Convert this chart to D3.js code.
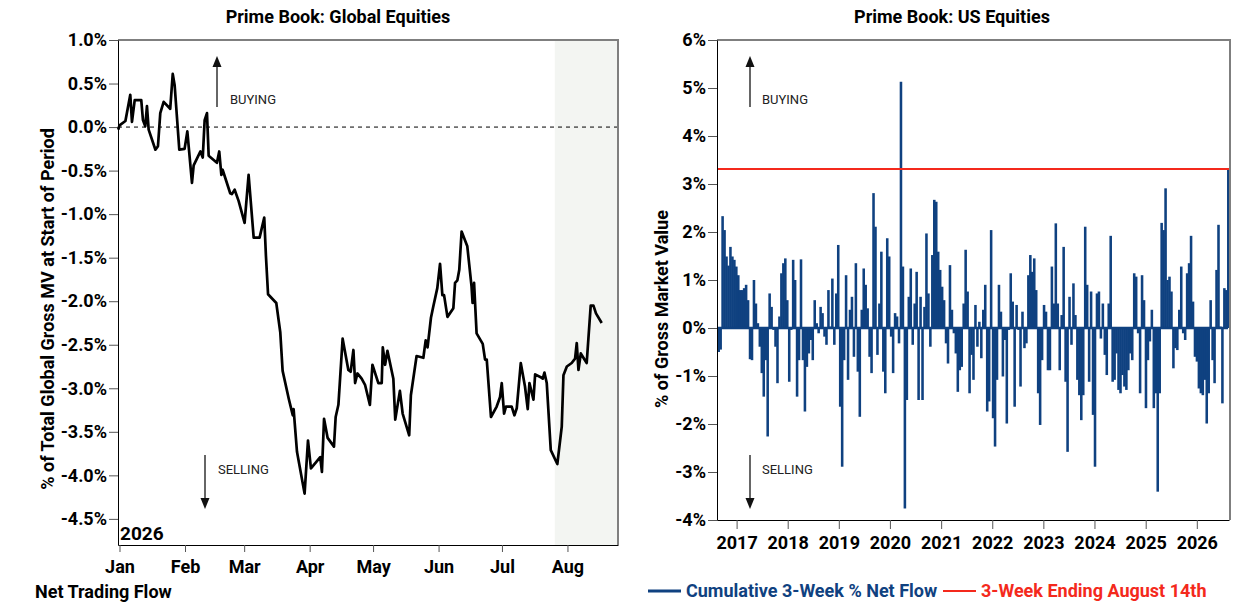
<!DOCTYPE html>
<html>
<head>
<meta charset="utf-8">
<script src="https://cdn.jsdelivr.net/npm/d3@7"></script>
<style>
  body { margin: 0; background: #fff; }
  text { font-family: Roboto, "Liberation Sans", sans-serif; }
</style>
</head>
<body>
<svg id="mainsvg" width="1255" height="612"></svg>
<script>
// ---- left panel: cumulative net trading flow in 2026 (days after Jan 1) ----
const flowDay = [-0.6, 0, 2.8, 5.1, 5.9, 7.2, 10.3, 11.1, 12.2, 13, 13.8, 17, 18.2, 19.3, 20.9, 24, 25.2, 26.1,
    28.3, 30.8, 32.1, 34.3, 35.1, 38.3, 39.4, 40.3, 41.4, 42.2, 46.1, 47.2, 48.2, 48.8, 52.4, 53.2, 54.5, 56.4,
    59.2, 61.1, 63.5, 66.3, 68.5, 69.3, 70.3, 74.2, 76.1, 77.2, 80.1, 81.1, 82, 82.4, 84, 87.6, 89.2, 90.6,
    95, 95.8, 96.8, 98.5, 101.5, 102.3, 103.6, 105.6, 108.3, 109.4, 110.7, 111.5, 112.6, 114.6, 116.2, 118.5,
    119.7, 122.5, 124.1, 124.6, 125.7, 126.8, 129.6, 130.5, 132.7, 134, 137.1, 137.9, 140.6, 143.8, 144.9,
    145.8, 147.4, 148.5, 150.4, 151.7, 152.8, 153.6, 155.2, 158, 158.8, 159.9, 160.8, 161.9, 164.6, 166.6,
    167.1, 167.8, 169, 171.9, 173, 173.8, 175.8, 178.5, 180.1, 180.9, 182, 182.9, 185.6, 186.9, 188, 189.9,
    191.9, 193.2, 194, 195.9, 196.7, 199.1, 200.3, 201.1, 202.2, 204.1, 207.2, 209.3, 210.1, 211.7, 214,
    215.6, 216.4, 217.2, 218.3, 221.1, 223, 224.3, 225.5, 228.2];
const flowPct = [-0.03, 0.02, 0.07, 0.37, 0.06, 0.31, 0.31, 0.08, 0.01, 0.24, -0.03, -0.26, -0.22, 0.16, 0.29, 0.21, 0.61, 0.48,
    -0.26, -0.25, -0.05, -0.64, -0.44, -0.28, -0.35, 0.08, 0.16, -0.33, -0.41, -0.28, -0.55, -0.49, -0.76, -0.77, -0.72, -0.85,
    -1.10, -0.55, -1.27, -1.27, -1.04, -1.48, -1.92, -2.02, -2.36, -2.80, -3.12, -3.22, -3.31, -3.24, -3.73, -4.21, -3.60, -3.92,
    -3.79, -3.96, -3.35, -3.57, -3.67, -3.33, -3.19, -2.43, -2.79, -2.81, -2.56, -2.94, -2.83, -2.89, -2.96, -3.19,
    -2.73, -2.94, -2.94, -2.53, -2.73, -2.57, -2.89, -3.36, -3.03, -3.29, -3.54, -3.08, -2.63, -2.65, -2.45,
    -2.53, -2.19, -2.06, -1.85, -1.57, -1.93, -1.93, -2.18, -2.08, -1.79, -1.76, -1.64, -1.20, -1.37, -1.83,
    -2.02, -1.79, -2.37, -2.49, -2.67, -2.67, -3.33, -3.21, -3.10, -2.94, -3.29, -3.21, -3.21, -3.31, -3.23, -2.71,
    -2.98, -3.24, -2.94, -3.13, -2.84, -2.87, -2.89, -2.82, -2.94, -3.71, -3.87, -3.44, -2.85, -2.75, -2.71,
    -2.66, -2.48, -2.79, -2.60, -2.71, -2.05, -2.05, -2.14, -2.25];
const monthTicks = ['2026-01-01', '2026-02-01', '2026-03-01', '2026-04-01', '2026-05-01', '2026-06-01', '2026-07-01', '2026-08-01'];
const pctTicks = [1.0, 0.5, 0.0, -0.5, -1.0, -1.5, -2.0, -2.5, -3.0, -3.5, -4.0, -4.5];
const shadeStart = '2026-07-26';

// ---- right panel: cumulative 3-week % net flow, one value every two weeks ----
const usStart = '2016-08-26';
const usFlow = [
    -0.5, -0.45, 2.33, 2.04, 1.49, 1.3, 1.69, 1.49, 1.42, 1.28,
    1.1, 0.79, 0.79, 0.83, 0.9, 0.58, -0.65, -0.67, 1.0, 0.51,
    0.1, -0.39, -0.94, -1.43, -0.67, -2.26, 0.72, 0.44, -0.04, -0.39,
    -1.15, 0.24, 1.14, 1.35, 1.45, 0.58, -1.12, -0.04, 1.42, 1.0,
    -1.43, -0.67, 1.43, -0.67, -1.74, -0.81, -0.53, -0.25, -0.67, 0.58,
    0.1, -0.11, 0.44, 0.31, -0.18, -0.35, 0.79, 0.03, 1.03, -0.35,
    0.72, 1.73, -1.64, -2.89, -0.67, 1.1, -1.08,
    0.38, 0.65, -0.6, 1.35, -0.91, -1.85, 0.38, 1.24, 0.9, 0.41,
    -0.6, -0.94, 2.81, 2.11, -0.56, 0.51, 1.59, -0.91, -1.36, 1.87,
    1.49, -0.18, -0.94, 0.31, 0.24, -0.32, 5.13, 1.28, -3.76, -1.5,
    0.65, 1.24, -0.35, 0.51, 1.17, -1.5, 0.65, -1.5, 0.44, 1.97,
    0.72, -0.39, 1.52, 2.67, 2.63, 1.59, 1.21, 0.86, 0.58, -0.32,
    -0.74, 1.31, 0.38, -0.11, -0.53, -1.33, -0.88, -0.81, 0.51, 1.63,
    0.76, -1.36, -0.56, -1.08, 0.48, -0.39,
    0.13, -0.63, 0.38, 0.9, -1.74, -1.53, 2.04, -1.88, -2.47, -1.08,
    0.9, 0.34, -1.01, -0.25, -1.99, -0.04, 1.14, 0.55, -1.64, 0.48,
    -0.04, -1.22, 0.34, -0.42, -0.32, 1.1, 1.52, 1.17, 1.45, 0.79,
    -1.36, -2.02, -0.67, 0.48, 0.34, -0.88, -0.88, 1.28, 0.51, 2.18,
    0.51, -0.88, 0.27, 1.69, -1.12, -2.58, 0.65, -0.35, 0.93, 0.27,
    -1.08, -1.4, -1.92, -1.4, 2.11, 0.9, -1.12, 0.76, -1.81, -2.89,
    0.72, 0.76, -0.22, 0.51, -0.56,
    -0.98, 0.51, 1.92, -1.12, -1.08, -0.53, -1.29, -1.36, -0.98, -1.22,
    -1.29, -0.88, -0.53, -0.67, 1.14, 1.07, -0.11, -1.36, 1.1, 0.58,
    -1.67, -0.67, -0.28, 0.38, -1.67, -1.36, -3.41, -1.36, 2.19, 2.04,
    2.91, 1.0, 1.07, 0.76, -0.84, -0.42, -0.46, 0.38, 1.28, -0.11,
    -0.25, 1.14, 1.35, 1.92, 0.55, -0.6, -0.7, -1.26, -1.36, -1.4,
    -1.08, -1.99, -1.36, 0.58, -0.67, -1.15, 1.21, 2.15, 0.03, -1.57,
    0.83, 0.79, 3.31];
const usLatest = 3.31;
const yearTicks = [2017, 2018, 2019, 2020, 2021, 2022, 2023, 2024, 2025, 2026];
const usTicks = [6, 5, 4, 3, 2, 1, 0, -1, -2, -3, -4];

const blue = '#0f4180';
const red = '#f4291c';
const svg = d3.select('#mainsvg');
const parse = d3.timeParse('%Y-%m-%d');

function styleAxis(g) {
    g.selectAll('text').attr('font-size', 18).attr('font-weight', 'bold').attr('fill', '#000');
    g.selectAll('.tick line').attr('stroke', '#555');
    g.select('.domain').attr('stroke', '#000');
}

function arrow(x, from, to) {
    const dir = to < from ? 1 : -1;
    svg.append('line')
        .attr('x1', x).attr('x2', x)
        .attr('y1', from).attr('y2', to + dir * 8)
        .attr('stroke', '#333').attr('stroke-width', 1.5);
    svg.append('path')
        .attr('d', `M${x},${to} L${x - 4.5},${to + dir * 11} L${x + 4.5},${to + dir * 11} Z`)
        .attr('fill', '#111');
}

function label(x, y, txt) {
    svg.append('text').attr('x', x).attr('y', y)
        .attr('font-size', 13).attr('fill', '#222').text(txt);
}

// ================= left panel =================
const jan1 = parse('2026-01-01');
const dayDate = d => new Date(jan1.getTime() + d * 864e5);
const xL = d3.scaleTime()
    .domain([d3.timeHour.offset(jan1, -17), d3.timeHour.offset(parse('2026-08-24'), 22)])
    .range([118, 618]);
const yL = d3.scaleLinear().domain([-4.8, 1.0]).range([545, 40]);

svg.append('rect')
    .attr('x', xL(parse(shadeStart))).attr('y', 40)
    .attr('width', 618 - xL(parse(shadeStart))).attr('height', 505)
    .attr('fill', '#f3f5f2');

svg.append('line')
    .attr('x1', 118).attr('x2', 618).attr('y1', yL(0)).attr('y2', yL(0))
    .attr('stroke', '#000').attr('stroke-width', 1).attr('stroke-dasharray', '4,4');

svg.append('path')
    .attr('d', 'M118,40 H618 V545')
    .attr('fill', 'none').attr('stroke', '#7f7f7f').attr('stroke-width', 2);

svg.append('g').attr('transform', 'translate(118,0)')
    .call(d3.axisLeft(yL).tickValues(pctTicks).tickFormat(d => d.toFixed(1) + '%')
        .tickSize(9).tickSizeOuter(0).tickPadding(2))
    .call(styleAxis);

svg.append('g').attr('transform', 'translate(0,545)')
    .call(d3.axisBottom(xL).tickValues(monthTicks.map(parse)).tickFormat(d3.timeFormat('%b'))
        .tickSize(7).tickSizeOuter(0).tickPadding(8))
    .call(styleAxis);

const flowLine = d3.line()
    .x((d, i) => xL(dayDate(flowDay[i])))
    .y(d => yL(d));
svg.append('path')
    .datum(flowPct)
    .attr('d', flowLine)
    .attr('fill', 'none').attr('stroke', '#000').attr('stroke-width', 2.7)
    .attr('stroke-linejoin', 'round');

svg.append('text').attr('x', 338).attr('y', 23).attr('text-anchor', 'middle')
    .attr('font-size', 18).attr('font-weight', 'bold').text('Prime Book: Global Equities');
svg.append('text').attr('transform', 'translate(54,309) rotate(-90)').attr('text-anchor', 'middle')
    .attr('font-size', 18).attr('font-weight', 'bold')
    .text('% of Total Global Gross MV at Start of Period');
svg.append('text').attr('x', 120).attr('y', 540)
    .attr('font-size', 19).attr('font-weight', 'bold').text('2026');
svg.append('text').attr('x', 35).attr('y', 598)
    .attr('font-size', 18).attr('font-weight', 'bold').text('Net Trading Flow');

arrow(217, 107, 56);
label(230, 104, 'BUYING');
arrow(205, 455, 509);
label(218, 474, 'SELLING');

// ================= right panel =================
const xR = d3.scaleTime().domain([parse('2016-08-14'), parse('2026-08-19')]).range([717, 1229]);
const yR = d3.scaleLinear().domain([-4, 6]).range([520, 40]);
const usDates = usFlow.map((v, i) => d3.timeDay.offset(parse(usStart), 14 * i));
const step = i => xR(d3.timeDay.offset(usDates[i], 14)) - xR(usDates[i]);

svg.append('g')
    .selectAll('rect')
    .data(usFlow)
    .join('rect')
    .attr('x', (d, i) => xR(usDates[i]) - step(i) / 2 - 0.3)
    .attr('width', (d, i) => step(i) + 0.6)
    .attr('y', d => yR(Math.max(d, 0)))
    .attr('height', d => Math.abs(yR(d) - yR(0)))
    .attr('fill', blue);

svg.append('line')
    .attr('x1', 717).attr('x2', 1228).attr('y1', yR(0)).attr('y2', yR(0))
    .attr('stroke', blue).attr('stroke-width', 2.5);

svg.append('line')
    .attr('x1', 717).attr('x2', 1229).attr('y1', yR(usLatest)).attr('y2', yR(usLatest))
    .attr('stroke', red).attr('stroke-width', 2);

svg.append('path')
    .attr('d', 'M717,40 H1230 V520')
    .attr('fill', 'none').attr('stroke', '#7f7f7f').attr('stroke-width', 2);

svg.append('g').attr('transform', 'translate(717,0)')
    .call(d3.axisLeft(yR).tickValues(usTicks).tickFormat(d => d + '%')
        .tickSize(9).tickSizeOuter(0).tickPadding(2))
    .call(styleAxis);

svg.append('g').attr('transform', 'translate(0,520)')
    .call(d3.axisBottom(xR).tickValues(yearTicks.map(y => new Date(y, 0, 1))).tickFormat(d3.timeFormat('%Y'))
        .tickSize(9).tickSizeOuter(0).tickPadding(7))
    .call(styleAxis);

svg.append('text').attr('x', 952).attr('y', 23).attr('text-anchor', 'middle')
    .attr('font-size', 18).attr('font-weight', 'bold').text('Prime Book: US Equities');
svg.append('text').attr('transform', 'translate(668,309) rotate(-90)').attr('text-anchor', 'middle')
    .attr('font-size', 18).attr('font-weight', 'bold').text('% of Gross Market Value');

arrow(750, 107, 56);
label(762, 104, 'BUYING');
arrow(750, 455, 509);
label(762, 474, 'SELLING');

// legend
const legend = [
    {name: 'Cumulative 3-Week % Net Flow', color: blue, x: 648},
    {name: '3-Week Ending August 14th', color: red, x: 943}
];
legend.forEach(l => {
    svg.append('line').attr('x1', l.x).attr('x2', l.x + 33).attr('y1', 591).attr('y2', 591)
        .attr('stroke', l.color).attr('stroke-width', l.color === blue ? 3 : 2);
    svg.append('text').attr('x', l.x + 38).attr('y', 597)
        .attr('font-size', 18).attr('font-weight', 'bold').attr('fill', l.color).text(l.name);
});
</script>
</body>
</html>
